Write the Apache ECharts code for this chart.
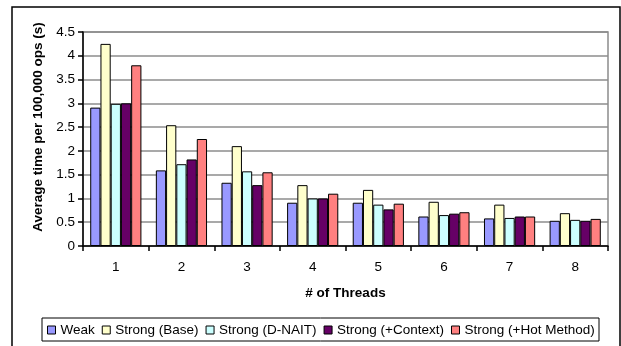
<!DOCTYPE html>
<html>
<head>
<meta charset="utf-8">
<script src="https://cdn.jsdelivr.net/npm/echarts@6/dist/echarts.min.js"></script>
<style>
  html, body { margin: 0; padding: 0; background: #fff; }
  #chart { width: 621px; height: 346px; }
</style>
</head>
<body>
<div id="chart"></div>
<script>
// Thread counts on the x axis
const threads = ['1', '2', '3', '4', '5', '6', '7', '8'];

// Average time per 100,000 ops (s) for each configuration
const weak        = [2.91, 1.59, 1.33, 0.91, 0.91, 0.62, 0.58, 0.53];
const strongBase  = [4.25, 2.54, 2.10, 1.28, 1.18, 0.93, 0.87, 0.69];
const strongDNAIT = [2.99, 1.72, 1.57, 1.00, 0.87, 0.65, 0.59, 0.55];
const strongCtx   = [3.00, 1.82, 1.28, 1.00, 0.77, 0.68, 0.62, 0.53];
const strongHot   = [3.80, 2.25, 1.55, 1.10, 0.89, 0.71, 0.62, 0.57];

const seriesNames = ['Weak', 'Strong (Base)', 'Strong (D-NAIT)', 'Strong (+Context)', 'Strong (+Hot Method)'];
const seriesData = [weak, strongBase, strongDNAIT, strongCtx, strongHot];
const seriesColors = ['#9999FF', '#FFFFCC', '#CCFFFF', '#660066', '#FF8080'];

const FONT = '"Liberation Sans", Arial, sans-serif';

const chart = echarts.init(document.getElementById('chart'), null, { renderer: 'canvas' });

chart.setOption({
  animation: false,
  backgroundColor: '#fff',
  textStyle: { fontFamily: FONT },
  graphic: [
    // outer chart frame
    { type: 'rect', shape: { x: 12, y: 7, width: 608, height: 360 },
      style: { fill: 'none', stroke: '#000', lineWidth: 1.5 }, z: -1 },
    // legend frame
    { type: 'rect', shape: { x: 42, y: 318, width: 557, height: 23 },
      style: { fill: '#fff', stroke: '#000', lineWidth: 1 }, z: -1 }
  ],
  grid: {
    left: 83, right: 13, top: 32, bottom: 100,
    show: true, borderColor: '#8c8c8c', borderWidth: 1.5, backgroundColor: 'transparent'
  },
  legend: {
    data: seriesNames,
    left: 47, top: 323,
    itemWidth: 8, itemHeight: 8, itemGap: 7,
    icon: 'rect',
    padding: 0,
    textStyle: { fontFamily: FONT, fontSize: 13.5, color: '#000' },
    itemStyle: { borderColor: '#000', borderWidth: 1 }
  },
  xAxis: {
    type: 'category',
    data: threads,
    name: '# of Threads',
    nameLocation: 'middle',
    nameGap: 40,
    nameTextStyle: { fontFamily: FONT, fontSize: 13.5, fontWeight: 'bold', color: '#000' },
    axisLine: { lineStyle: { color: '#000', width: 1.5 } },
    axisTick: { show: true, length: 5, lineStyle: { color: '#000', width: 1.5 } },
    axisLabel: { fontFamily: FONT, fontSize: 13.5, color: '#000', margin: 14 },
    splitLine: { show: false }
  },
  yAxis: {
    type: 'value',
    min: 0, max: 4.5, interval: 0.5,
    name: 'Average time per 100,000 ops (s)',
    nameLocation: 'middle',
    nameGap: 34,
    nameRotate: 90,
    nameTextStyle: { fontFamily: FONT, fontSize: 13.5, fontWeight: 'bold', color: '#000', padding: [0, 0, 0, 24] },
    axisLine: { show: true, lineStyle: { color: '#000', width: 1.5 } },
    axisTick: { show: true, length: 5, lineStyle: { color: '#000', width: 1.5 } },
    axisLabel: { fontFamily: FONT, fontSize: 13.5, color: '#000', margin: 8 },
    splitLine: { show: true, lineStyle: { color: '#8c8c8c', width: 1.5 } }
  },
  series: seriesData.map((d, i) => ({
    name: seriesNames[i],
    type: 'bar',
    data: d,
    barGap: '0%',
    barCategoryGap: '22%',
    itemStyle: { color: seriesColors[i], borderColor: '#000', borderWidth: 1 }
  }))
});
</script>
</body>
</html>
